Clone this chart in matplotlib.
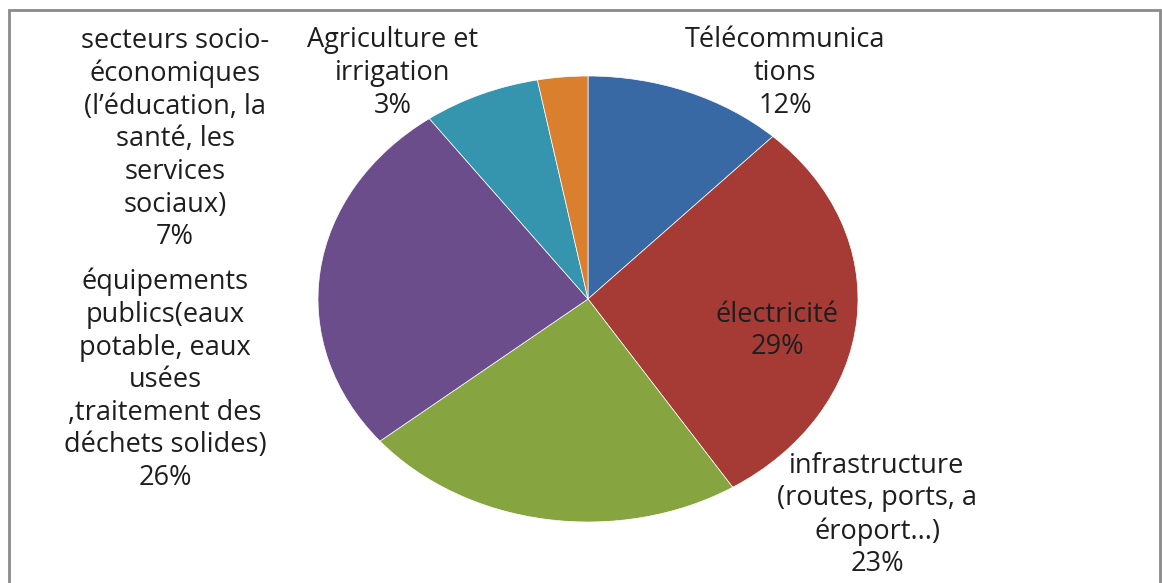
import matplotlib.pyplot as plt
from matplotlib.patches import Rectangle

# parts du budget par secteur (sens horaire depuis le haut)
secteurs = [
    "Télécommunica\ntions",
    "électricité",
    "infrastructure\n(routes, ports, a\néroport...)",
    "équipements\npublics(eaux\npotable, eaux\nusées\n,traitement des\ndéchets solides)",
    "secteurs socio-\néconomiques\n(l’éducation, la\nsanté, les\nservices\nsociaux)",
    "Agriculture et\nirrigation",
]
parts = [12, 29, 23, 26, 7, 3]
couleurs = ["#3869A4", "#A63A34", "#86A43F", "#6B4D8B", "#3595AF", "#DA7F2E"]

# emplacement des étiquettes (fraction de la figure)
pos_etiquettes = [
    (785 / 1162, 1 - 73 / 583),
    (777 / 1162, 1 - 331 / 583),
    (877 / 1162, 1 - 515 / 583),
    (165 / 1162, 1 - 380 / 583),
    (175 / 1162, 1 - 139 / 583),
    (393 / 1162, 1 - 73 / 583),
]

fig = plt.figure(figsize=(11.62, 5.83), dpi=100)
fig.patch.set_facecolor("white")

# cadre gris autour du graphique
fig.patches.append(Rectangle((9 / 1162, -0.05), 1151 / 1162, 1.05 - 10 / 583,
                             transform=fig.transFigure, fill=False,
                             edgecolor="#8a8a8a", linewidth=2))

ax = fig.add_axes([318 / 1162, 61 / 583, 540 / 1162, 446 / 583])
ax.pie(parts, colors=couleurs, startangle=90, counterclock=False,
       radius=1.0, wedgeprops=dict(linewidth=0.5, edgecolor="white"))
ax.set_aspect("auto")
ax.set_xlim(-1, 1)
ax.set_ylim(-1, 1)
ax.axis("off")

for nom, val, (x, y) in zip(secteurs, parts, pos_etiquettes):
    fig.text(x, y, f"{nom}\n{val}%", ha="center", va="center",
             fontsize=19.5, family="Open Sans", color="#1e1e1e",
             linespacing=1.22)

fig.savefig("out.png", dpi=100)
